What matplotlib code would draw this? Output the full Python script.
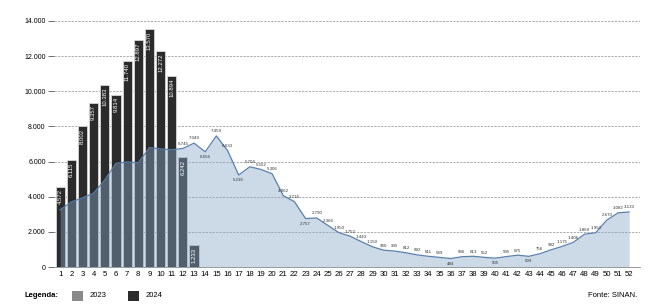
import matplotlib.pyplot as plt
import numpy as np

plt.rcParams['font.family'] = ['Liberation Sans', 'DejaVu Sans']

semanas = list(range(1, 53))
casos_2024 = [4572, 6115, 8002, 9357, 10383, 9814, 11740, 12897, 13570, 12272, 10894, 6242, 1233]
casos_2023 = [3250, 3700, 3930, 4200, 4950, 5900, 5980, 5925, 6790, 6720, 6670, 6745,
              7049, 6556, 7459, 6633, 5236, 5704, 5552, 5306, 4062, 3716, 2757, 2790,
              2366, 1950, 1752, 1443, 1150, 960, 905, 812, 692, 611, 549, 484,
              586, 613, 552, 505, 595, 675, 609, 756, 982, 1175, 1406, 1869,
              1950, 2670, 3082, 3133]
abaixo = [14, 17, 23, 36, 40, 43]  # rótulos abaixo da linha

def fmt(v):
    return f"{v:,}".replace(",", ".")

fig = plt.figure(figsize=(6.67, 3.08), dpi=100)
ax = fig.add_axes([0.081, 0.133, 0.879, 0.799])

x24 = np.arange(1, len(casos_2024) + 1)
ax.bar(x24, casos_2024, width=0.82, color='#2b2b2b', edgecolor='#d8d8d8', linewidth=0.6, zorder=3)
for x, v in zip(x24, casos_2024):
    ax.text(x, v - 150, fmt(v), rotation=90, ha='center', va='top', color='white',
            fontsize=4.3, zorder=6)

ax.fill_between(semanas, casos_2023, 0, color='#86a5c6', alpha=0.42, zorder=4, linewidth=0)
ax.plot(semanas, casos_2023, color='#5a80ad', linewidth=0.9, zorder=5)

for s, v in zip(semanas, casos_2023):
    if s < 12:
        continue
    if s in abaixo:
        ax.text(s, v - 180, fmt(v), ha='center', va='top', fontsize=3.2, color='#333333', zorder=6)
    else:
        ax.text(s, v + 150, fmt(v), ha='center', va='bottom', fontsize=3.2, color='#333333', zorder=6)

ax.set_xlim(0.45, 53)
ax.set_ylim(0, 14000)
ax.set_xticks(semanas)
ax.set_xticklabels([str(s) for s in semanas], fontsize=5.6)
yt = list(range(0, 14001, 2000))
ax.set_yticks(yt)
ax.set_yticklabels([fmt(v) for v in yt], fontsize=5)
ax.tick_params(axis='x', length=0, pad=3)
ax.tick_params(axis='y', length=4, width=0.6, color='#555555', pad=2)
ax.grid(axis='y', linestyle=(0, (3, 1.5)), color='#999999', linewidth=0.55, zorder=1)
for sp in ['top', 'right', 'left']:
    ax.spines[sp].set_visible(False)
ax.spines['bottom'].set_color('#888888')
ax.spines['bottom'].set_linewidth(0.6)

# legenda manual
fig.text(0.036, 0.039, 'Legenda:', fontsize=5.5, fontweight='bold', va='center')
fig.patches.append(plt.Rectangle((0.108, 0.022), 0.016, 0.034, facecolor='#8a8a8a',
                                 transform=fig.transFigure, figure=fig))
fig.text(0.135, 0.039, '2023', fontsize=5.5, va='center')
fig.patches.append(plt.Rectangle((0.192, 0.022), 0.016, 0.034, facecolor='#2b2b2b',
                                 transform=fig.transFigure, figure=fig))
fig.text(0.218, 0.039, '2024', fontsize=5.5, va='center')
fig.text(0.955, 0.039, 'Fonte: SINAN.', fontsize=5.5, va='center', ha='right')

fig.savefig('out.png', dpi=100)
